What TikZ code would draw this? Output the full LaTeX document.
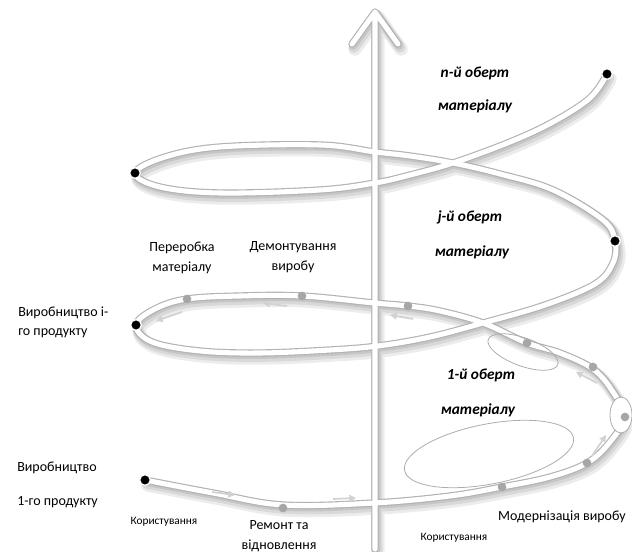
\documentclass[tikz,border=0pt]{standalone}
\usepackage{fontspec}
\setmainfont{Carlito}
\usetikzlibrary{arrows.meta}

\begin{document}
\begin{tikzpicture}[x=0.75pt, y=-0.75pt,
    tube/.style={line cap=round, line join=round},
    enddot/.style={circle, fill=black, draw=white, line width=1pt,
        inner sep=0pt, minimum size=8pt},
    stopdot/.style={circle, fill=gray!70, inner sep=0pt, minimum size=6.5pt},
    flowarrow/.style={-{Triangle[length=5pt, width=5pt]}, gray!35, line width=1.3pt},
    note/.style={font=\fontsize{10.5}{14.5}\selectfont, align=center, inner sep=0pt},
    smallnote/.style={font=\fontsize{8.5}{10}\selectfont, inner sep=0pt},
    turnlbl/.style={font=\fontsize{11.5}{13}\selectfont\bfseries\itshape, inner sep=0pt}]
    \useasboundingbox (0,0) rectangle (632,552);

    \foreach \w/\c/\dx/\dy in {10/gray!15/3/5, 8/gray!30/2/3.5, 6.5/gray!45/1/1.5, 5.5/gray!60/0/0, 3.8/white/0/0} {
        \draw[tube, line width=\w pt, \c, shift={(\dx,\dy)}] plot[smooth, tension=0.6] coordinates {
            (145,480) (213,493) (283,505) (374,503) (450,496) (502,487) (550,477) (587,463)
            (610,442) (624,417) (613,392) (593,369) (560,353) (527,343) (483,323) (440,311)
            (408,306) (374,303) (302,296) (240,296) (187,299) (155,309) (136,325) (152,342)
            (200,351) (260,353) (330,350) (378,346) (430,337) (483,323) (545,305) (595,284)
            (613,263) (615,241) (603,220) (553,190) (500,174) (453,163) (410,156) (375,152)
            (320,145) (220,147) (165,157) (135,173) (160,187) (220,193) (320,190) (375,183)
            (410,175) (453,163) (510,142) (553,122) (590,98) (607,74)};
        \draw[tube, line width=\w pt, \c, shift={(\dx,\dy)}]
            (375,549) -- (375,14) (352,44) -- (375,12) -- (398,44);
    }

    \draw[gray!65, line width=0.6pt] (489,454) ellipse[x radius=86, y radius=30, rotate=11];
    \draw[gray!65, line width=0.6pt] (523,352) ellipse[x radius=37, y radius=14, rotate=-20];
    \draw[gray!65, fill=white, line width=0.6pt] (621,415) ellipse[x radius=11, y radius=18];

    \draw[flowarrow] (212,492) -- (235,495);
    \draw[flowarrow] (333,499) -- (356,498);
    \draw[flowarrow] (592,456) -- (606,435);
    \draw[flowarrow] (597,383) -- (576,372);
    \draw[flowarrow] (413,319) -- (390,315);
    \draw[flowarrow] (287,306) -- (263,303);
    \draw[flowarrow] (182,312) -- (156,321);

    \node[stopdot] (repairdot) at (283,508) {};
    \node[stopdot] (modbig) at (502,487) {};
    \node[stopdot] (modlow) at (587,463) {};
    \node[stopdot] (modright) at (625,417) {};
    \node[stopdot] (modup) at (593,367) {};
    \node[stopdot] (modsmall) at (527,343) {};
    \node[stopdot] (usedot) at (408,306) {};
    \node[stopdot] (dismantledot) at (302,296) {};
    \node[stopdot] (recycledot) at (187,299) {};

    \node[enddot] (firstprod) at (145,480) {};
    \node[enddot] (iprod) at (136,325) {};
    \node[enddot] (jturnend) at (615,241) {};
    \node[enddot] (upperleft) at (135,173) {};
    \node[enddot] (nturnend) at (607,74) {};

    \node[turnlbl] (nturn) at (475,73) {n-й оберт};
    \node[turnlbl] (nmat) at (475,106) {матеріалу};
    \node[turnlbl] (jturn) at (470,217) {j-й оберт};
    \node[turnlbl] (jmat) at (472,252) {матеріалу};
    \node[turnlbl] (oneturn) at (481,375) {1-й оберт};
    \node[turnlbl] (onemat) at (478,410) {матеріалу};

    \node[note] (recycle) at (182,258) {Переробка\\матеріалу};
    \node[note] (dismantle) at (293,257) {Демонтування\\виробу};
    \node[note, align=left, anchor=west] (iprodtext) at (18,322) {Виробництво і-\\го продукту};
    \node[note, align=left, anchor=west] (firstprodtext) at (17,485) {Виробництво\\[11pt]1-го продукту};
    \node[smallnote] (usefirst) at (164,522) {Користування};
    \node[note] (repair) at (279,536) {Ремонт та\\відновлення};
    \node[note] (modern) at (562,517) {Модернізація виробу};
    \node[smallnote] (usesecond) at (454,538) {Користування};
\end{tikzpicture}
\end{document}
